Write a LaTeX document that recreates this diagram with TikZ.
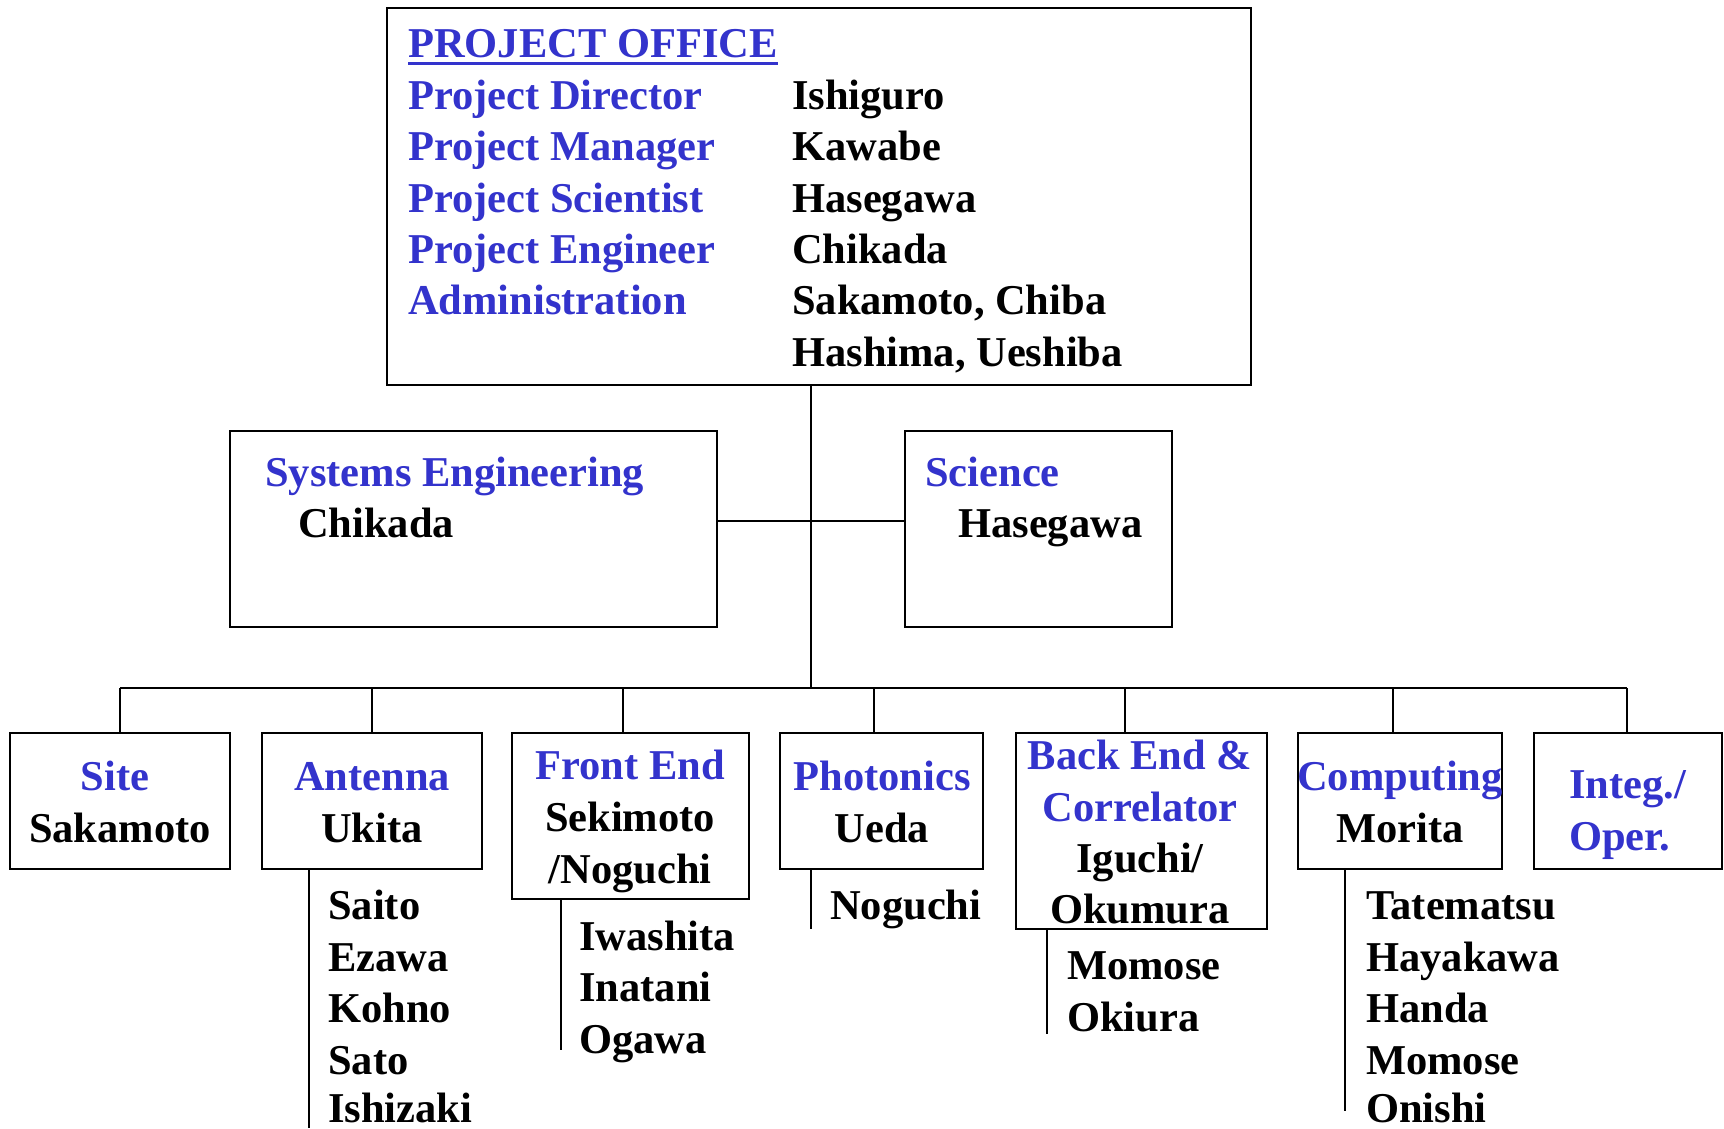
\documentclass[tikz,border=0pt]{standalone}
\usepackage{fontspec}
\setmainfont{Liberation Serif}
\definecolor{tb}{RGB}{51,51,204}
\begin{document}
\begin{tikzpicture}[x=1pt,y=-1pt,
  font=\bfseries\fontsize{42.5}{51}\selectfont,
  box/.style={draw, line width=1.8pt, inner sep=0pt, fill=none},
  ln/.style={line width=1.8pt},
  hd/.style={text=tb, inner sep=0pt, anchor=base},
  nm/.style={text=black, inner sep=0pt, anchor=base},
  hdl/.style={hd, anchor=base west},
  nml/.style={nm, anchor=base west}]
\useasboundingbox (0,0) rectangle (1724,1128);
% boxes
\node[box, minimum width=864pt, minimum height=377pt] (po) at (819,196.5) {};
\node[box, minimum width=487pt, minimum height=196pt] (se) at (473.5,529) {};
\node[box, minimum width=267pt, minimum height=196pt] (sci) at (1038.5,529) {};
\node[box, minimum width=220pt, minimum height=136pt] (site) at (120,801) {};
\node[box, minimum width=220pt, minimum height=136pt] (ant) at (372,801) {};
\node[box, minimum width=237pt, minimum height=166pt] (fe) at (630.5,816) {};
\node[box, minimum width=203pt, minimum height=136pt] (pho) at (881.5,801) {};
\node[box, minimum width=251pt, minimum height=196pt] (be) at (1141.5,831) {};
\node[box, minimum width=204pt, minimum height=136pt] (comp) at (1400,801) {};
\node[box, minimum width=188pt, minimum height=136pt] (integ) at (1628,801) {};
% connectors
\coordinate (trunk) at (811,688);
\coordinate (mid) at (811,521);
\coordinate (busL) at (120,688);
\coordinate (busR) at (1627,688);
\draw[ln] (po.south -| trunk) -- (trunk);
\draw[ln] (se.east |- mid) -- (sci.west |- mid);
\draw[ln] (busL) -- (busR);
\coordinate (dSite) at (120,688);
\coordinate (dAnt) at (372,688);
\coordinate (dFe) at (623,688);
\coordinate (dPho) at (874,688);
\coordinate (dBe) at (1125,688);
\coordinate (dComp) at (1393,688);
\coordinate (dInteg) at (1627,688);
\draw[ln] (dSite) -- (dSite |- site.north);
\draw[ln] (dAnt) -- (dAnt |- ant.north);
\draw[ln] (dFe) -- (dFe |- fe.north);
\draw[ln] (dPho) -- (dPho |- pho.north);
\draw[ln] (dBe) -- (dBe |- be.north);
\draw[ln] (dComp) -- (dComp |- comp.north);
\draw[ln] (dInteg) -- (dInteg |- integ.north);
% member side lines
\coordinate (antL) at (309,1128);
\coordinate (feL) at (561,1050);
\coordinate (phoL) at (811,929);
\coordinate (beL) at (1047,1034);
\coordinate (compL) at (1345,1111);
\draw[ln] (ant.south -| antL) -- (antL);
\draw[ln] (fe.south -| feL) -- (feL);
\draw[ln] (pho.south -| phoL) -- (phoL);
\draw[ln] (be.south -| beL) -- (beL);
\draw[ln] (comp.south -| compL) -- (compL);
% project office text
\node[hdl] (pohd) at (408,57) {PROJECT OFFICE};
\draw[tb, line width=3pt] ([yshift=-6pt]pohd.base west) -- ([yshift=-6pt]pohd.base east);
\node[hdl] (r1) at (408,109) {Project Director};
\node[hdl] (r2) at (408,160) {Project Manager};
\node[hdl] (r3) at (408,212) {Project Scientist};
\node[hdl] (r4) at (408,263) {Project Engineer};
\node[hdl] (r5) at (408,314) {Administration};
\node[nml] (n1) at (792,109) {Ishiguro};
\node[nml] (n2) at (792,160) {Kawabe};
\node[nml] (n3) at (792,212) {Hasegawa};
\node[nml] (n4) at (792,263) {Chikada};
\node[nml] (n5) at (792,314) {Sakamoto, Chiba};
\node[nml] (n6) at (792,366) {Hashima, Ueshiba};
% middle boxes text
\node[hdl] (sehd) at (265,486) {Systems Engineering};
\node[nml] (senm) at (298,537) {Chikada};
\node[hdl] (scihd) at (925,486) {Science};
\node[nml] (scinm) at (958,537) {Hasegawa};
% bottom boxes text
\node[hd] (sitehd) at (115,790) {Site};
\node[nm] (sitenm) at (120,842) {Sakamoto};
\node[hd] (anthd) at (372,790) {Antenna};
\node[nm] (antnm) at (372,842) {Ukita};
\node[hd] (fehd) at (630,779) {Front End};
\node[nm] (fenm1) at (630,831) {Sekimoto};
\node[nm] (fenm2) at (630,883) {/Noguchi};
\node[hd] (phohd) at (882,790) {Photonics};
\node[nm] (phonm) at (882,842) {Ueda};
\node[hd] (behd1) at (1140,769) {Back End \&};
\node[hd] (behd2) at (1140,821) {Correlator};
\node[nm] (benm1) at (1140,872) {Iguchi/};
\node[nm] (benm2) at (1140,923) {Okumura};
\node[hd] (comphd) at (1400,790) {Computing};
\node[nm] (compnm) at (1400,842) {Morita};
\node[hdl] (integ1) at (1569,798) {Integ./};
\node[hdl] (integ2) at (1569,850) {Oper.};
% member lists
\node[nml] (a1) at (328,919) {Saito};
\node[nml] (a2) at (328,971) {Ezawa};
\node[nml] (a3) at (328,1022) {Kohno};
\node[nml] (a4) at (328,1074) {Sato};
\node[nml] (a5) at (328,1122) {Ishizaki};
\node[nml] (f1) at (579,950) {Iwashita};
\node[nml] (f2) at (579,1001) {Inatani};
\node[nml] (f3) at (579,1053) {Ogawa};
\node[nml] (p1) at (830,919) {Noguchi};
\node[nml] (b1) at (1067,979) {Momose};
\node[nml] (b2) at (1067,1031) {Okiura};
\node[nml] (c1) at (1366,919) {Tatematsu};
\node[nml] (c2) at (1366,971) {Hayakawa};
\node[nml] (c3) at (1366,1022) {Handa};
\node[nml] (c4) at (1366,1074) {Momose};
\node[nml] (c5) at (1366,1122) {Onishi};
\end{tikzpicture}
\end{document}
